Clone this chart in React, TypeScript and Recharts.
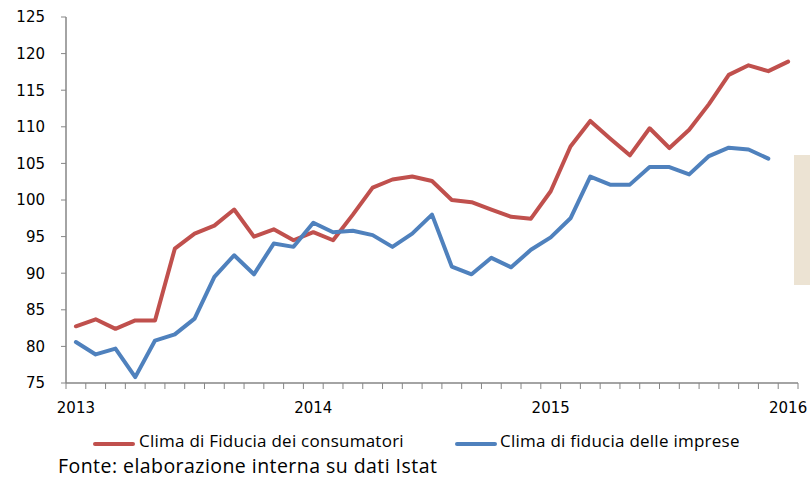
import React from "react";
import { LineChart, Line, XAxis, YAxis } from "recharts";

// Monthly values, Jan 2013 .. Jan 2016
const consumatori = [
  82.75, 83.7, 82.4, 83.55, 83.55, 93.35, 95.4, 96.5, 98.7, 95.0, 96.0, 94.5,
  95.6, 94.5, 98.0, 101.7, 102.8, 103.2, 102.6, 100.0, 99.7, 98.7, 97.7, 97.45,
  101.2, 107.3, 110.8, 108.4, 106.1, 109.8, 107.1, 109.6, 113.1, 117.1, 118.4, 117.6,
  118.9,
];
// Monthly values, Jan 2013 .. Dec 2015
const imprese = [
  80.6, 78.9, 79.7, 75.8, 80.8, 81.65, 83.8, 89.5, 92.45, 89.85, 94.05, 93.6,
  96.9, 95.6, 95.8, 95.2, 93.6, 95.4, 98.0, 90.9, 89.85, 92.1, 90.8, 93.2,
  94.9, 97.5, 103.2, 102.1, 102.1, 104.5, 104.5, 103.5, 106.0, 107.15, 106.9, 105.65,
];
const yearLabels = ["2013", "2014", "2015", "2016"];
const yearIndex = [0, 12, 24, 36];
const yTicks = [75, 80, 85, 90, 95, 100, 105, 110, 115, 120, 125];
const seriesNames = ["Clima di Fiducia dei consumatori", "Clima di fiducia delle imprese"];
const sourceText = "Fonte: elaborazione interna su dati Istat";

const RED = "#C0504D";
const BLUE = "#4F81BD";
const AXIS = "#868686";

const data = consumatori.map((c, i) => ({
  i,
  consumatori: c,
  imprese: i < imprese.length ? imprese[i] : undefined,
}));

const boundaryTicks = Array.from({ length: consumatori.length + 1 }, (_, k) => k - 0.5);
const xTicks = [...boundaryTicks, ...yearIndex].sort((a, b) => a - b);

const XTick = (props: any) => {
  const { x, y, payload } = props;
  const v = payload.value;
  const yi = yearIndex.indexOf(v);
  if (yi >= 0) {
    return (
      <text x={x} y={y + 30} textAnchor="middle" fontSize={15} fontFamily="DejaVu Sans" fill="#000">
        {yearLabels[yi]}
      </text>
    );
  }
  return <line x1={x} x2={x} y1={y} y2={y + 6} stroke={AXIS} strokeWidth={1} />;
};

const legendText: React.CSSProperties = {
  position: "absolute",
  top: 431,
  fontFamily: "Open Sans",
  fontSize: 17,
  letterSpacing: "0.25px",
  color: "#000",
  whiteSpace: "nowrap",
  lineHeight: "20px",
};

export default function App() {
  return (
    <div style={{ position: "absolute", left: 0, top: 0, width: 810, height: 480, background: "#fff" }}>
      <LineChart
        width={810}
        height={420}
        data={data}
        margin={{ top: 17, right: 12, left: 0, bottom: 0 }}
      >
        <XAxis
          dataKey="i"
          type="number"
          domain={[-0.5, 36.5]}
          ticks={xTicks}
          interval={0}
          tick={<XTick />}
          tickLine={false}
          tickSize={0}
          tickMargin={0}
          height={37}
          axisLine={{ stroke: AXIS, strokeWidth: 1.5 }}
        />
        <YAxis
          domain={[75, 125]}
          ticks={yTicks}
          interval={0}
          width={66}
          tickSize={5}
          tickMargin={16}
          axisLine={{ stroke: AXIS, strokeWidth: 1.5 }}
          tickLine={{ stroke: AXIS }}
          tick={{ fontSize: 15, fontFamily: "DejaVu Sans", fill: "#000" }}
        />
        <Line
          type="linear"
          dataKey="consumatori"
          name={seriesNames[0]}
          stroke={RED}
          strokeWidth={4}
          dot={false}
          strokeLinejoin="round"
          strokeLinecap="round"
          isAnimationActive={false}
        />
        <Line
          type="linear"
          dataKey="imprese"
          name={seriesNames[1]}
          stroke={BLUE}
          strokeWidth={4}
          dot={false}
          strokeLinejoin="round"
          strokeLinecap="round"
          isAnimationActive={false}
        />
      </LineChart>

      <div style={{ position: "absolute", left: 794, top: 155, width: 16, height: 130, background: "#ECE3D3" }} />

      <div style={{ position: "absolute", left: 93, top: 442, width: 42, height: 4, background: RED, borderRadius: 2 }} />
      <div style={{ ...legendText, left: 139 }}>{seriesNames[0]}</div>
      <div style={{ position: "absolute", left: 455, top: 442, width: 42, height: 4, background: BLUE, borderRadius: 2 }} />
      <div style={{ ...legendText, left: 500 }}>{seriesNames[1]}</div>
      <div style={{ position: "absolute", left: 58, top: 455, fontFamily: "Open Sans", fontSize: 19.5, letterSpacing: "0.45px", color: "#000", whiteSpace: "nowrap", lineHeight: "22px" }}>
        {sourceText}
      </div>
    </div>
  );
}
